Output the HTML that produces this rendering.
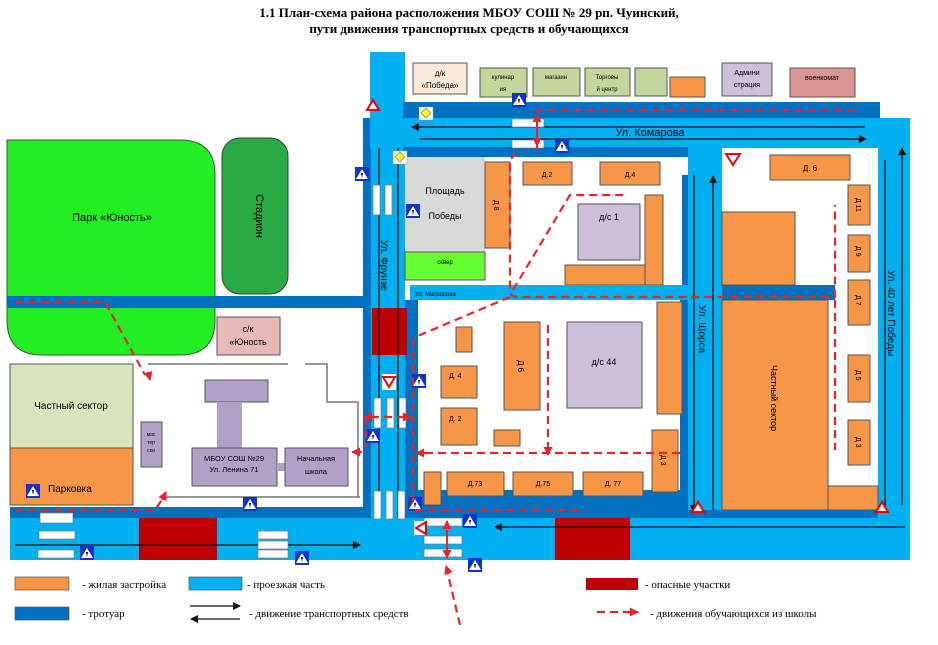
<!DOCTYPE html>
<html><head><meta charset="utf-8"><style>
html,body{margin:0;padding:0;background:#fff;width:938px;height:645px;overflow:hidden}
svg text{font-family:"Liberation Sans",sans-serif}
.t{font-family:"Liberation Serif",serif}
</style></head><body>
<svg width="938" height="645" viewBox="0 0 938 645" xmlns="http://www.w3.org/2000/svg">
<defs>
<marker id="ar" markerWidth="8" markerHeight="8" refX="7" refY="4" orient="auto" markerUnits="userSpaceOnUse"><path d="M0,0 L8,4 L0,8 z" fill="#111"/></marker>
<marker id="rr" markerWidth="9" markerHeight="9" refX="8" refY="4.5" orient="auto" markerUnits="userSpaceOnUse"><path d="M0,0 L9,4.5 L0,9 z" fill="#e8232b"/></marker>
<g id="ps"><rect x="0" y="0" width="14" height="14" fill="#1133cc"/><path d="M7,2 L13,12 L1,12 z" fill="#fff"/><path d="M6,6 l2,0 l-1,5z" fill="#000"/></g>
</defs>
<text x="469" y="17" text-anchor="middle" class="t" font-size="13" font-weight="bold">1.1 План-схема района расположения МБОУ СОШ № 29 рп. Чуинский,</text>
<text x="469" y="33" text-anchor="middle" class="t" font-size="13" font-weight="bold">пути движения транспортных средств и обучающихся</text>

<!-- park & stadium -->
<path d="M7,140 H180 Q215,140 215,175 V320 Q215,355 180,355 H42 Q7,355 7,320 z" fill="#22ee22" stroke="#3a5a3a"/>
<text x="112" y="221" text-anchor="middle" font-size="11">Парк «Юность»</text>
<rect x="222" y="138" width="66" height="156" rx="18" fill="#2aaa44" stroke="#2a4a2a"/>
<text transform="translate(256,216) rotate(90)" text-anchor="middle" font-size="11">Стадион</text>
<rect x="7" y="296" width="365" height="12" fill="#0070c0"/>
<rect x="217" y="317" width="63" height="38" fill="#e6b8b7" stroke="#555"/>
<text x="248" y="332" text-anchor="middle" font-size="9">с/к</text>
<text x="248" y="345" text-anchor="middle" font-size="9">«Юность</text>
<rect x="10" y="364" width="123" height="84" fill="#d8e4bc" stroke="#555"/>
<text x="71" y="409" text-anchor="middle" font-size="10">Частный сектор</text>
<rect x="10" y="448" width="123" height="57" fill="#f79646" stroke="#555"/>
<text x="48" y="492" font-size="10">Парковка</text>

<!-- school yard -->
<path d="M148,364 H288 M305,364 H327 V402 H358 V498 M166,497 H360" fill="none" stroke="#777" stroke-width="1.5"/>
<rect x="141" y="422" width="21" height="45" fill="#b2a1c7" stroke="#555"/>
<text x="151" y="436" text-anchor="middle" font-size="5">мас</text><text x="151" y="444" text-anchor="middle" font-size="5">тер</text><text x="151" y="452" text-anchor="middle" font-size="5">ски</text>
<rect x="205" y="380" width="63" height="22" fill="#b2a1c7" stroke="#555"/>
<rect x="217" y="402" width="25" height="46" fill="#b2a1c7"/>
<rect x="192" y="448" width="85" height="38" fill="#b2a1c7" stroke="#555"/>
<rect x="277" y="463" width="8" height="8" fill="#b2a1c7"/>
<rect x="285" y="448" width="63" height="38" fill="#b2a1c7" stroke="#555"/>
<text x="234" y="461" text-anchor="middle" font-size="7.5">МБОУ СОШ №29</text>
<text x="234" y="472" text-anchor="middle" font-size="7.5">Ул. Ленина 71</text>
<text x="316" y="461" text-anchor="middle" font-size="7.5">Начальная</text>
<text x="316" y="474" text-anchor="middle" font-size="7.5">школа</text>

<!-- bottom road -->
<rect x="10" y="507" width="362" height="11" fill="#0070c0"/>
<rect x="10" y="518" width="900" height="42" fill="#00b0f0"/>
<rect x="139" y="518" width="78" height="42" fill="#c00000"/>
<rect x="555" y="518" width="75" height="42" fill="#c00000"/>

<!-- Frunze -->
<rect x="370" y="52" width="35" height="466" fill="#00b0f0"/>
<rect x="363" y="118" width="8" height="400" fill="#0070c0"/>
<rect x="405" y="300" width="13" height="218" fill="#0070c0"/>
<rect x="372" y="308" width="35" height="47" fill="#c00000"/>
<path d="M379,120 V518 M398,120 V518" stroke="#111" stroke-width="1.3"/>
<text transform="translate(381,240) rotate(90)" font-size="10">Ул. Фрунзе</text>

<!-- top buildings -->
<rect x="413" y="63" width="54" height="31" fill="#fde9d9" stroke="#555"/>
<text x="440" y="76" text-anchor="middle" font-size="8">д/к</text><text x="440" y="88" text-anchor="middle" font-size="8">«Победа»</text>
<rect x="480" y="68" width="47" height="29" fill="#c3d69b" stroke="#555"/>
<text x="503" y="79" text-anchor="middle" font-size="6">кулинар</text><text x="503" y="91" text-anchor="middle" font-size="6">ия</text>
<rect x="533" y="68" width="47" height="28" fill="#c3d69b" stroke="#555"/>
<text x="556" y="79" text-anchor="middle" font-size="6">магазин</text>
<rect x="585" y="68" width="45" height="28" fill="#c3d69b" stroke="#555"/>
<text x="607" y="79" text-anchor="middle" font-size="6">Торговы</text><text x="607" y="91" text-anchor="middle" font-size="6">й центр</text>
<rect x="635" y="68" width="32" height="28" fill="#c3d69b" stroke="#555"/>
<rect x="670" y="77" width="35" height="20" fill="#f79646" stroke="#555"/>
<rect x="722" y="63" width="50" height="33" fill="#ccc0da" stroke="#555"/>
<text x="747" y="75" text-anchor="middle" font-size="7">Админи</text><text x="747" y="87" text-anchor="middle" font-size="7">страция</text>
<rect x="790" y="68" width="65" height="29" fill="#da9694" stroke="#555"/>
<text x="822" y="80" text-anchor="middle" font-size="7">военкомат</text>

<!-- Komarova -->
<rect x="403" y="102" width="477" height="16" fill="#0070c0"/>
<rect x="370" y="118" width="540" height="30" fill="#00b0f0"/>
<rect x="878" y="118" width="32" height="400" fill="#00b0f0"/>
<rect x="403" y="147" width="285" height="10" fill="#0070c0"/>
<path d="M865,127 H412" stroke="#111" stroke-width="1.3" marker-end="url(#ar)"/>
<path d="M420,139 H866" stroke="#111" stroke-width="1.3" marker-end="url(#ar)"/>
<text x="650" y="136" text-anchor="middle" font-size="11">Ул. Комарова</text>

<!-- Shorsa -->
<rect x="688" y="148" width="34" height="370" fill="#00b0f0"/>
<path d="M694,175 V510 M713,515 V180" stroke="#111" stroke-width="1.3"/>
<path d="M713,190 V176" stroke="#111" stroke-width="1.3" marker-end="url(#ar)"/>
<path d="M694,500 V512" stroke="#111" stroke-width="1.3" marker-end="url(#ar)"/>
<text transform="translate(699,305) rotate(90)" font-size="10">Ул. Щорса</text>
<path d="M885,160 V510 M902,505 V150" stroke="#111" stroke-width="1.3"/>
<path d="M902,160 V148" stroke="#111" stroke-width="1.3" marker-end="url(#ar)"/>
<text transform="translate(888,270) rotate(90)" font-size="10">Ул. 40 лет Победы</text>

<!-- upper block -->
<rect x="410" y="157" width="272" height="128" fill="#fff"/>
<rect x="682" y="175" width="6" height="110" fill="#0070c0"/>
<rect x="405" y="157" width="80" height="95" fill="#d9d9d9"/>
<rect x="405" y="252" width="80" height="28" fill="#66ff33" stroke="#555"/>
<text x="445" y="194" text-anchor="middle" font-size="9">Площадь</text>
<text x="445" y="219" text-anchor="middle" font-size="9">Победы</text>
<text x="445" y="264" text-anchor="middle" font-size="6">сквер</text>
<rect x="485" y="162" width="25" height="86" fill="#f79646" stroke="#555"/>
<text transform="translate(494,200) rotate(90)" font-size="7">Д 8</text>
<rect x="523" y="162" width="49" height="23" fill="#f79646" stroke="#555"/><text x="547" y="177" text-anchor="middle" font-size="7">Д.2</text>
<rect x="600" y="162" width="60" height="23" fill="#f79646" stroke="#555"/><text x="630" y="177" text-anchor="middle" font-size="7">Д.4</text>
<rect x="578" y="204" width="62" height="56" fill="#ccc0da" stroke="#555"/><text x="609" y="220" text-anchor="middle" font-size="9">д/с 1</text>
<rect x="565" y="265" width="80" height="20" fill="#f79646" stroke="#555"/>
<rect x="645" y="195" width="18" height="90" fill="#f79646" stroke="#555"/>

<!-- Matrosova -->
<rect x="410" y="285" width="278" height="15" fill="#00b0f0"/>
<rect x="722" y="285" width="113" height="15" fill="#0070c0"/>
<text x="415" y="296" font-size="6">Ул. Матросова</text>

<!-- right block -->
<rect x="722" y="150" width="156" height="135" fill="#fff"/>
<rect x="828" y="300" width="50" height="186" fill="#fff"/>
<rect x="770" y="155" width="80" height="25" fill="#f79646" stroke="#555"/><text x="810" y="171" text-anchor="middle" font-size="8">Д. 6</text>
<rect x="722" y="212" width="73" height="73" fill="#f79646" stroke="#555"/>
<rect x="848" y="185" width="22" height="40" fill="#f79646" stroke="#555"/><text transform="translate(856,198) rotate(90)" font-size="7">Д 11</text>
<rect x="848" y="235" width="22" height="37" fill="#f79646" stroke="#555"/><text transform="translate(856,246) rotate(90)" font-size="7">Д 9</text>
<rect x="848" y="280" width="22" height="45" fill="#f79646" stroke="#555"/><text transform="translate(856,295) rotate(90)" font-size="7">Д 7</text>
<rect x="722" y="300" width="106" height="210" fill="#f79646" stroke="#555"/>
<text transform="translate(771,365) rotate(90)" font-size="9">Частный сектор</text>
<rect x="848" y="355" width="22" height="47" fill="#f79646" stroke="#555"/><text transform="translate(856,370) rotate(90)" font-size="7">Д 5</text>
<rect x="848" y="420" width="22" height="45" fill="#f79646" stroke="#555"/><text transform="translate(856,437) rotate(90)" font-size="7">Д 3</text>
<rect x="828" y="486" width="50" height="24" fill="#f79646" stroke="#555"/>

<!-- lower block -->
<rect x="418" y="300" width="262" height="190" fill="#fff"/>
<rect x="680" y="300" width="8" height="210" fill="#0070c0"/>
<rect x="418" y="490" width="270" height="20" fill="#0070c0"/>
<rect x="418" y="507" width="270" height="11" fill="#0070c0"/>
<rect x="456" y="327" width="16" height="25" fill="#f79646" stroke="#555"/>
<rect x="441" y="366" width="36" height="32" fill="#f79646" stroke="#555"/><text x="449" y="378" font-size="7">Д. 4</text>
<rect x="441" y="408" width="36" height="37" fill="#f79646" stroke="#555"/><text x="449" y="421" font-size="7">Д. 2</text>
<rect x="504" y="322" width="36" height="88" fill="#f79646" stroke="#555"/><text transform="translate(518,360) rotate(90)" font-size="8">Д 6</text>
<rect x="567" y="322" width="75" height="86" fill="#ccc0da" stroke="#555"/><text x="604" y="365" text-anchor="middle" font-size="9">д/с 44</text>
<rect x="657" y="302" width="25" height="112" fill="#f79646" stroke="#555"/>
<rect x="494" y="430" width="26" height="16" fill="#f79646" stroke="#555"/>
<rect x="652" y="430" width="26" height="62" fill="#f79646" stroke="#555"/><text transform="translate(661,455) rotate(90)" font-size="7">Д 3</text>
<rect x="424" y="472" width="17" height="33" fill="#f79646" stroke="#555"/>
<rect x="447" y="472" width="57" height="24" fill="#f79646" stroke="#555"/><text x="475" y="486" text-anchor="middle" font-size="7">Д.73</text>
<rect x="513" y="472" width="60" height="24" fill="#f79646" stroke="#555"/><text x="543" y="486" text-anchor="middle" font-size="7">Д.75</text>
<rect x="583" y="472" width="60" height="24" fill="#f79646" stroke="#555"/><text x="613" y="486" text-anchor="middle" font-size="7">Д. 77</text>
<rect x="688" y="510" width="190" height="8" fill="#0070c0"/>

<!-- traffic arrows bottom -->
<path d="M15,545 H360" stroke="#111" stroke-width="1.3" marker-end="url(#ar)"/>
<path d="M905,527 H495" stroke="#111" stroke-width="1.3" marker-end="url(#ar)"/>

<!-- zebras -->
<g fill="#fff" stroke="#777" stroke-width="0.7">
<rect x="373" y="185" width="7" height="30"/><rect x="385" y="185" width="7" height="30"/>
<rect x="512" y="119" width="32" height="8"/><rect x="512" y="140" width="32" height="8"/>
<rect x="374" y="398" width="7" height="30"/><rect x="387" y="398" width="7" height="30"/><rect x="399" y="398" width="7" height="30"/>
<rect x="374" y="491" width="7" height="28"/><rect x="386" y="491" width="7" height="28"/><rect x="398" y="491" width="7" height="28"/>
<rect x="40" y="513" width="33" height="10"/><rect x="39" y="531" width="36" height="8"/><rect x="38" y="550" width="36" height="8"/>
<rect x="258" y="531" width="30" height="8"/><rect x="258" y="541" width="30" height="8"/><rect x="258" y="550" width="30" height="8"/>
<rect x="424" y="518" width="38" height="8"/><rect x="424" y="536" width="38" height="8"/><rect x="424" y="549" width="38" height="8"/>
</g>

<!-- warning triangles -->
<path d="M367,110 l6,-10 l6,10z" fill="#fff" stroke="#e00" stroke-width="2"/>
<path d="M726,154 l7,11 l7,-11z" fill="#fff" stroke="#e00" stroke-width="2"/>
<path d="M692,512 l6,-10 l6,10z" fill="#fff" stroke="#e00" stroke-width="2"/>
<path d="M876,512 l6,-10 l6,10z" fill="#fff" stroke="#e00" stroke-width="2"/>
<rect x="382" y="374" width="14" height="16" fill="#fff"/><path d="M383,377 l6,10 l6,-10z" fill="#fff" stroke="#e00" stroke-width="2"/>
<rect x="414" y="521" width="13" height="14" fill="#fff"/><path d="M426,522 l-10,6 l10,6z" fill="#fff" stroke="#e00" stroke-width="2"/>
<!-- priority signs -->
<rect x="419" y="107" width="14" height="13" fill="#fff" stroke="#999" stroke-width=".5"/><path d="M426,108 l5,5 l-5,5 l-5,-5z" fill="#ff0" stroke="#999"/>
<rect x="393" y="151" width="14" height="13" fill="#fff" stroke="#999" stroke-width=".5"/><path d="M400,152 l5,5 l-5,5 l-5,-5z" fill="#ff0" stroke="#999"/>

<!-- pedestrian signs -->
<use href="#ps" x="512" y="93"/><use href="#ps" x="555" y="139"/><use href="#ps" x="355" y="167"/>
<use href="#ps" x="406" y="204"/><use href="#ps" x="412" y="374"/><use href="#ps" x="366" y="429"/>
<use href="#ps" x="243" y="497"/><use href="#ps" x="26" y="484"/><use href="#ps" x="80" y="546"/>
<use href="#ps" x="295" y="551"/><use href="#ps" x="408" y="497"/><use href="#ps" x="463" y="514"/>
<use href="#ps" x="468" y="558"/>

<!-- red dashed student paths -->
<g fill="none" stroke="#e8232b" stroke-width="2.2" stroke-dasharray="8,5">
<path d="M535,110 H858"/>
<path d="M518,155 Q510,155 510,165 V290 Q510,297 518,297 H835 V205"/>
<path d="M513,290 L570,195 H625"/>
<path d="M835,300 V450"/>
<path d="M510,297 L420,335 Q413,338 413,345 V505"/>
<path d="M548,325 V450"/>
<path d="M680,453 H420"/>
<path d="M415,510 H585"/>
<path d="M15,510 H155 L165,495"/>
<path d="M15,302 H105 L145,375"/>
<path d="M405,417 H366 V448"/>
<path d="M460,625 L447,570"/>
</g>
<g stroke="#e8232b" stroke-width="2" fill="none">
<path d="M537,150 V114" marker-end="url(#rr)"/>
<path d="M537,125 V146" marker-end="url(#rr)"/>
<path d="M548,445 V455" marker-end="url(#rr)"/>
<path d="M425,453 H416" marker-end="url(#rr)"/>
<path d="M148,372 L150,380" marker-end="url(#rr)"/>
<path d="M162,500 L166,492" marker-end="url(#rr)"/>
<path d="M362,452 H352" marker-end="url(#rr)"/>
<path d="M372,417 H364" marker-end="url(#rr)"/>
<path d="M400,417 H411" marker-end="url(#rr)"/>
<path d="M447,528 V521" marker-end="url(#rr)"/>
<path d="M447,530 V558" marker-end="url(#rr)"/>
<path d="M448,572 L446,566" marker-end="url(#rr)"/>
</g>

<!-- legend -->
<rect x="15" y="577" width="54" height="13" fill="#f79646" stroke="#555" stroke-width=".7"/>
<text x="82" y="588" class="t" font-size="11">- жилая застройка</text>
<rect x="189" y="577" width="53" height="13" fill="#00b0f0" stroke="#555" stroke-width=".7"/>
<text x="247" y="588" class="t" font-size="11">- проезжая часть</text>
<rect x="586" y="578" width="52" height="12" fill="#c00000"/>
<text x="645" y="588" class="t" font-size="11">- опасные участки</text>
<rect x="15" y="607" width="54" height="13" fill="#0070c0" stroke="#555" stroke-width=".7"/>
<text x="82" y="617" class="t" font-size="11">- тротуар</text>
<path d="M190,606 H240" stroke="#111" stroke-width="1.3" marker-end="url(#ar)"/>
<path d="M240,619 H191" stroke="#111" stroke-width="1.3" marker-end="url(#ar)"/>
<text x="249" y="617" class="t" font-size="11">- движение транспортных средств</text>
<path d="M597,612 H630" stroke="#e8232b" stroke-width="2.2" stroke-dasharray="8,5"/>
<path d="M630,612 H638" stroke="#e8232b" stroke-width="2" marker-end="url(#rr)"/>
<text x="650" y="617" class="t" font-size="11">- движения обучающихся из школы</text>
</svg>
</body></html>
